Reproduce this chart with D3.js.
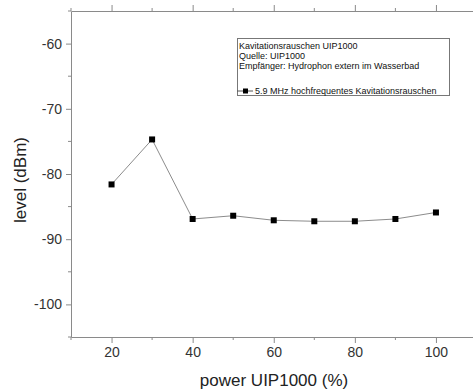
<!DOCTYPE html>
<html>
<head>
<meta charset="utf-8">
<script src="https://cdn.jsdelivr.net/npm/d3@7"></script>
<style>
  html, body { margin: 0; padding: 0; background: #fff; }
  svg { display: block; font-family: "Liberation Sans", Arial, sans-serif; }
</style>
</head>
<body>
<svg id="chart" width="473" height="392"></svg>
<script>
const powers = [20, 30, 40, 50, 60, 70, 80, 90, 100];
const levels = [-81.6, -74.7, -86.9, -86.4, -87.1, -87.25, -87.25, -86.9, -85.9];
const xTicks = [20, 40, 60, 80, 100];
const yTicks = [-60, -70, -80, -90, -100];
const xMinor = [10, 30, 50, 70, 90, 110];
const yMinor = [-55, -65, -75, -85, -95, -105];
const legendLines = ["Kavitationsrauschen UIP1000", "Quelle: UIP1000", "Empfänger: Hydrophon extern im Wasserbad"];
const seriesName = "5.9 MHz hochfrequentes Kavitationsrauschen";
const xTitle = "power UIP1000 (%)";
const yTitle = "level (dBm)";

const svg = d3.select("#chart");
const pLeft = 71, pRight = 476.5, pTop = 11, pBottom = 337;
const x = d3.scaleLinear().domain([10, 110]).range([pLeft, pRight]);
const y = d3.scaleLinear().domain([-105, -55]).range([pBottom, pTop]);
const axisColor = "#8a8a8a";
const textColor = "#333";

function styleAxis(g) {
  g.select(".domain").attr("stroke", axisColor).attr("stroke-width", 1);
  g.selectAll(".tick line").attr("stroke", axisColor);
  g.selectAll(".tick text").attr("fill", textColor).attr("font-size", 14).attr("font-family", "Liberation Sans, Arial, sans-serif");
}

// bottom axis
const gB = svg.append("g").attr("transform", `translate(0,${pBottom})`)
  .call(d3.axisBottom(x).tickValues(xTicks).tickFormat(d3.format("d")).tickSizeInner(6).tickSizeOuter(0).tickPadding(4));
styleAxis(gB);
gB.selectAll(".minor").data(xMinor).enter().append("line")
  .attr("x1", d => x(d)).attr("x2", d => x(d)).attr("y1", 0).attr("y2", 3).attr("stroke", axisColor);

// top axis (no labels)
const gT = svg.append("g").attr("transform", `translate(0,${pTop})`)
  .call(d3.axisTop(x).tickValues(xTicks).tickFormat("").tickSizeInner(6).tickSizeOuter(0));
styleAxis(gT);
gT.selectAll(".minor").data(xMinor).enter().append("line")
  .attr("x1", d => x(d)).attr("x2", d => x(d)).attr("y1", 0).attr("y2", -3).attr("stroke", axisColor);

// left axis
const gL = svg.append("g").attr("transform", `translate(${pLeft},0)`)
  .call(d3.axisLeft(y).tickValues(yTicks).tickFormat(d3.format("d")).tickSizeInner(5).tickSizeOuter(0).tickPadding(4));
styleAxis(gL);
gL.selectAll(".tick text").text(d => String(d));
gL.selectAll(".minor").data(yMinor).enter().append("line")
  .attr("y1", d => y(d)).attr("y2", d => y(d)).attr("x1", 0).attr("x2", -3).attr("stroke", axisColor);

// line
const line = d3.line().x((d, i) => x(powers[i])).y(d => y(d));
svg.append("path").datum(levels).attr("d", line)
  .attr("fill", "none").attr("stroke", "#8c8c8c").attr("stroke-width", 1);

// markers
svg.selectAll(".pt").data(levels).enter().append("rect")
  .attr("x", (d, i) => x(powers[i]) - 3).attr("y", d => y(d) - 3)
  .attr("width", 6).attr("height", 6).attr("fill", "#000");

// titles
svg.append("text").attr("x", 274).attr("y", 386).attr("text-anchor", "middle")
  .attr("font-size", 17).attr("fill", "#222").text(xTitle);
svg.append("text").attr("transform", "translate(26,180) rotate(-90)").attr("text-anchor", "middle")
  .attr("font-size", 17).attr("fill", "#222").text(yTitle);

// legend
const lg = svg.append("g");
lg.append("rect").attr("x", 237.5).attr("y", 38.5).attr("width", 212).attr("height", 57)
  .attr("fill", "#fff").attr("stroke", "#777").attr("stroke-width", 1);
legendLines.forEach((t, i) => {
  lg.append("text").attr("x", 239).attr("y", 48.5 + i * 10).attr("font-size", 9).attr("fill", "#111").text(t);
});
lg.append("line").attr("x1", 237).attr("x2", 253).attr("y1", 91).attr("y2", 91).attr("stroke", "#555");
lg.append("rect").attr("x", 243).attr("y", 88.5).attr("width", 5).attr("height", 5).attr("fill", "#000");
lg.append("text").attr("x", 255).attr("y", 94).attr("font-size", 9).attr("fill", "#111").text(seriesName);
</script>
</body>
</html>
